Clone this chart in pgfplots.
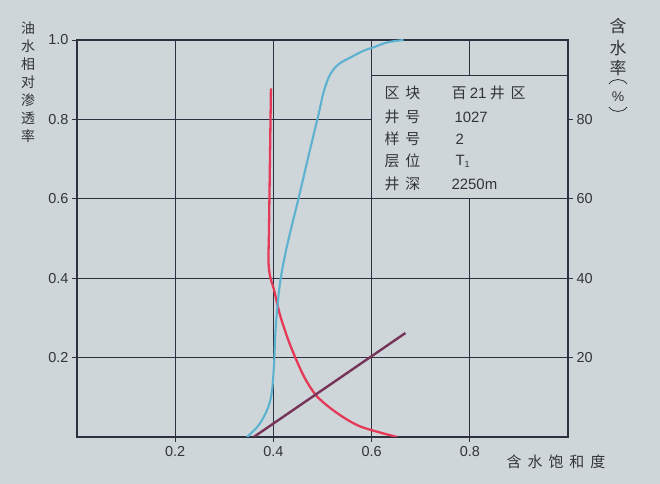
\documentclass[border=0pt]{standalone}
\usepackage{fontspec}
\setmainfont{Liberation Sans}
\newfontfamily\cjk{Noto Sans CJK SC}
\usepackage{pgfplots}
\pgfplotsset{compat=1.18}
\definecolor{bg}{RGB}{206,214,217}
\definecolor{ink}{RGB}{45,48,62}
\definecolor{txt}{RGB}{50,52,60}
\definecolor{redc}{RGB}{228,58,88}
\definecolor{cyanc}{RGB}{92,178,208}
\definecolor{purp}{RGB}{118,52,88}
\begin{document}
\begin{tikzpicture}[x=1bp,y=1bp]
\fill[bg] (0,0) rectangle (660,484);
\useasboundingbox (0,0) rectangle (660,484);
\begin{axis}[at={(77bp,47bp)}, anchor=south west, scale only axis,
  width=491bp, height=397bp,
  xmin=0, xmax=1, ymin=0, ymax=1,
  xtick={0.2,0.4,0.6,0.8}, ytick={0.2,0.4,0.6,0.8,1.0},
  grid=major, major grid style={ink, line width=0.9bp},
  tick align=outside, tick pos=left, major tick length=5bp,
  tick style={ink, line width=0.9bp},
  axis line style={ink, line width=1.2bp},
  /pgf/number format/assume math mode=true,
  xticklabel style={/pgf/number format/.cd, fixed, fixed zerofill, precision=1},
  yticklabel style={/pgf/number format/.cd, fixed, fixed zerofill, precision=1},
  ticklabel style={font=\fontsize{14.5}{16}\selectfont, text=txt},
  xticklabel shift=1bp, yticklabel shift=0bp,
]
\fill[bg] (axis cs:0.6,0.6) rectangle (axis cs:1,0.91);
\draw[ink, line width=0.9bp] (axis cs:0.6,0.6) rectangle (axis cs:1,0.91);
\addplot[redc, line width=2.3bp, smooth, tension=0.5] coordinates {
(0.395,0.878) (0.393,0.70) (0.391,0.52) (0.390,0.44) (0.394,0.40) (0.401,0.372)
(0.414,0.305) (0.435,0.229) (0.462,0.153) (0.489,0.102) (0.530,0.060)
(0.578,0.026) (0.652,0.0)};
\addplot[purp, line width=2.4bp] coordinates {(0.360,0.0) (0.669,0.262)};
\end{axis}
\begin{axis}[at={(77bp,47bp)}, anchor=south west, scale only axis,
  width=491bp, height=397bp,
  xmin=0, xmax=1, ymin=0, ymax=100,
  axis x line=none, axis y line*=right,
  ytick={20,40,60,80},
  tick align=outside, major tick length=5bp,
  tick style={ink, line width=0.9bp},
  axis line style={ink, line width=1.2bp},
  /pgf/number format/assume math mode=true,
  ticklabel style={font=\fontsize{14.5}{16}\selectfont, text=txt},
]
\addplot[cyanc, line width=2.1bp, smooth, tension=0.6] coordinates {
(0.346,0) (0.373,3.5) (0.394,9.4) (0.401,17.8) (0.404,26.3) (0.409,34)
(0.415,40) (0.424,46) (0.437,53) (0.451,60) (0.470,70) (0.482,76.2) (0.492,81.3)
(0.503,87.2) (0.516,91.4) (0.533,93.9) (0.557,95.6) (0.584,97.3)
(0.605,98.2) (0.632,99.4) (0.665,100)};
\end{axis}
% left y label
\node[text=txt, font=\cjk\fontsize{14}{18.2}\selectfont, align=center, anchor=north] at (28,466) {油\\水\\相\\对\\渗\\透\\率};
% right y label
\begin{scope}[every node/.style={text=txt, font=\cjk\fontsize{17}{20}\selectfont, inner sep=0pt}]
\node at (618,458) {含};
\node at (618,436) {水};
\node at (618,416) {率};
\node at (618,387) {\rmfamily\fontsize{14}{14}\selectfont\%};
\end{scope}
\draw[txt, line width=0.8bp] (609,400) .. controls (613,406) and (623,406) .. (627,400);
\draw[txt, line width=0.8bp] (609,377) .. controls (613,371) and (623,371) .. (627,377);
% x label
\node[text=txt, font=\cjk\fontsize{15}{18}\selectfont, anchor=center] at (556,22) {含\hspace{6bp}水\hspace{6bp}饱\hspace{6bp}和\hspace{6bp}度};
% info box
\begin{scope}[every node/.style={text=txt, anchor=west, font=\cjk\fontsize{15}{18}\selectfont}]
\node at (381,391) {区\hspace{6bp}块};
\node at (448,391) {百 {\fontsize{15}{18}\selectfont\rmfamily 21} 井\hspace{6bp}区};
\node at (381,367) {井\hspace{6bp}号};
\node at (451,367) {\rmfamily 1027};
\node at (381,345) {样\hspace{6bp}号};
\node at (452,345) {\rmfamily 2};
\node at (381,323) {层\hspace{6bp}位};
\node at (452,323) {\rmfamily T\raisebox{-2bp}{\fontsize{9}{10}\selectfont 1}};
\node at (381,300) {井\hspace{6bp}深};
\node at (448,300) {\rmfamily 2250m};
\end{scope}
\end{tikzpicture}
\end{document}
